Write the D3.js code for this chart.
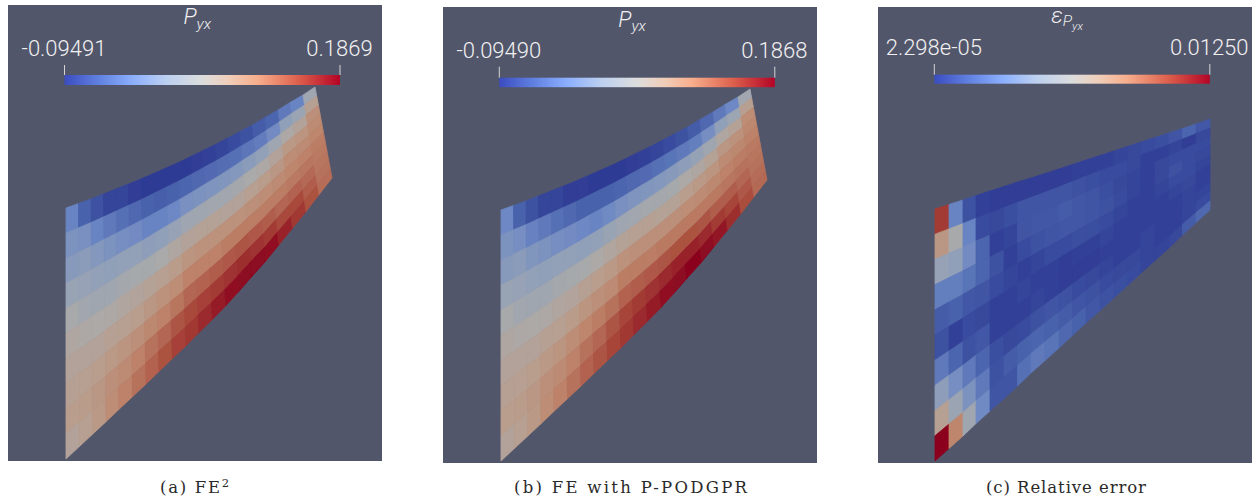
<!DOCTYPE html>
<html><head><meta charset="utf-8">
<script src="https://cdn.jsdelivr.net/npm/d3@7"></script>
<style>
html,body{margin:0;padding:0;background:#fff}
svg{display:block}
.bar-label{font-family:Roboto,"Liberation Sans",sans-serif;font-weight:300;font-size:22px;fill:#f0f0f0;text-anchor:middle}
.title{font-family:Roboto,"Liberation Sans",sans-serif;font-weight:300;font-style:italic;font-size:22px;fill:#f0f0f0;text-anchor:middle}
.caption{font-family:"DejaVu Serif",serif;font-size:16.5px;fill:#2a2a2a;text-anchor:middle}
</style></head><body>
<div id="chart"></div>
<script>
const rangeA = ["-0.09491","0.1869"], rangeB = ["-0.09490","0.1868"], rangeC = ["2.298e-05","0.01250"];
const captions = ["(a) FE","(b) FE with P-PODGPR","(c) Relative error"];

// deformed mesh outline (panels a, b), model units
const defTopX = [0,.125,.25,.375,.50,.625,.75,.875,1.0,1.125,1.25,1.37,1.495,1.62,1.74,1.865,1.99,2.12,2.24,2.37,2.49];
const defTopY = [2.51,2.555,2.60,2.65,2.70,2.75,2.80,2.855,2.91,2.965,3.025,3.085,3.145,3.21,3.275,3.34,3.415,3.49,3.565,3.64,3.72];
const defBotX = [0,.133,.266,.40,.53,.665,.80,.93,1.065,1.20,1.33,1.465,1.60,1.73,1.86,2.00,2.13,2.265,2.40,2.53,2.66];
const defBotY = [0,.124,.248,.373,.497,.623,.749,.876,1.004,1.133,1.264,1.397,1.535,1.678,1.827,1.982,2.143,2.308,2.474,2.643,2.81];
// reference mesh outline (panel c)
const refTopX = [-.01,.13,.27,.40,.54,.68,.815,.95,1.09,1.23,1.365,1.50,1.64,1.78,1.915,2.05,2.19,2.33,2.465,2.60,2.74];
const refBotX = refTopX;
const refTopY = [2.52,2.565,2.61,2.655,2.70,2.745,2.79,2.83,2.875,2.92,2.965,3.01,3.055,3.10,3.145,3.19,3.235,3.28,3.325,3.37,3.42];
const refBotY = [0,.125,.25,.375,.50,.625,.75,.88,1.005,1.13,1.255,1.38,1.505,1.63,1.755,1.88,2.005,2.13,2.26,2.385,2.51];

// cell values as a fraction of the colour bar, rows top to bottom
const cellsA = [
[.24,.12,.07,.03,.03,.01,0,0,0,0,.01,.02,.03,.05,.07,.10,.13,.20,.24,.45],
[.30,.29,.24,.20,.17,.14,.12,.11,.12,.13,.14,.15,.16,.17,.19,.21,.27,.37,.42,.58],
[.34,.35,.33,.30,.28,.27,.24,.24,.25,.29,.30,.31,.32,.33,.35,.38,.44,.52,.56,.66],
[.41,.40,.38,.37,.38,.38,.36,.37,.40,.44,.45,.46,.46,.47,.50,.52,.56,.62,.64,.68],
[.49,.46,.45,.45,.47,.48,.48,.50,.53,.56,.57,.57,.56,.56,.59,.61,.63,.67,.68,.70],
[.53,.52,.51,.52,.54,.55,.57,.59,.61,.64,.65,.65,.65,.65,.66,.67,.68,.70,.71,.72],
[.56,.56,.56,.58,.59,.60,.63,.65,.67,.71,.71,.71,.72,.72,.72,.72,.72,.73,.74,.73],
[.58,.59,.60,.62,.64,.66,.69,.71,.74,.78,.79,.80,.81,.82,.81,.80,.78,.79,.77,.74],
[.60,.61,.63,.66,.68,.71,.75,.78,.82,.85,.87,.88,.90,.91,.90,.88,.85,.85,.80,.75],
[.56,.59,.62,.67,.71,.75,.79,.83,.87,.89,.92,.95,.97,.99,.99,.97,.93,.89,.83,.76]];
const cellsB = [
[.25,.12,.07,.03,.03,.01,.01,0,0,0,.01,.02,.03,.05,.07,.10,.14,.20,.25,.46],
[.30,.28,.23,.20,.17,.14,.12,.12,.12,.13,.14,.15,.17,.18,.20,.22,.28,.37,.43,.59],
[.34,.35,.32,.30,.28,.27,.25,.24,.26,.29,.31,.32,.33,.34,.36,.39,.45,.53,.57,.67],
[.41,.40,.38,.37,.38,.38,.37,.38,.41,.44,.46,.47,.47,.48,.51,.53,.57,.63,.65,.69],
[.49,.46,.45,.45,.47,.48,.49,.51,.54,.57,.58,.58,.57,.57,.60,.62,.64,.68,.69,.71],
[.53,.52,.51,.52,.54,.55,.58,.60,.62,.65,.66,.66,.66,.66,.67,.68,.69,.71,.72,.73],
[.56,.56,.56,.58,.59,.61,.64,.66,.68,.72,.72,.72,.73,.73,.73,.73,.73,.74,.75,.74],
[.58,.59,.60,.62,.64,.67,.70,.72,.75,.79,.80,.81,.82,.83,.83,.82,.80,.80,.78,.75],
[.60,.61,.63,.66,.68,.71,.75,.78,.82,.86,.88,.90,.92,.93,.93,.92,.88,.86,.81,.76],
[.56,.59,.62,.67,.71,.75,.79,.82,.86,.89,.92,.95,.97,.99,1,.99,.96,.91,.84,.77]];
const cellsC = [
[.88,.24,.07,.02,.01,.01,.01,.01,.01,.01,.02,.02,.02,.03,.04,.05,.06,.08,.13,.09],
[.63,.49,.24,.05,.04,.06,.08,.08,.08,.08,.07,.06,.05,.05,.04,.02,.02,.03,.01,.04],
[.40,.37,.27,.13,.02,.03,.08,.09,.09,.10,.09,.08,.06,.04,.03,.02,.04,.05,.05,.05],
[.22,.22,.18,.13,.07,.02,.05,.07,.08,.09,.09,.08,.07,.05,.03,.02,.04,.07,.05,.04],
[.10,.12,.09,.08,.05,.03,.02,.03,.05,.05,.06,.06,.05,.03,.02,.02,.03,.05,.05,.03],
[.07,.02,.05,.04,.02,.02,.03,.02,.02,.01,.02,.02,.03,.02,.02,.02,.02,.03,.04,.02],
[.20,.13,.07,.09,.02,.02,.02,.03,.02,.01,.01,.01,.02,.02,.02,.02,.02,.02,.03,.02],
[.36,.28,.20,.13,.06,.04,.05,.07,.08,.07,.05,.04,.03,.02,.02,.03,.02,.02,.03,.03],
[.58,.42,.30,.20,.07,.10,.12,.13,.12,.10,.08,.07,.05,.04,.04,.03,.02,.02,.03,.05],
[1,.70,.45,.26,.08,.08,.17,.20,.18,.14,.12,.09,.07,.06,.05,.03,.03,.04,.10,.14]];

const colorPos = [0,.12,.25,.37,.5,.6,.7,.85,1];
const colorVal = ["#3b4cc0","#5f7fe0","#8db0fe","#bcd0f0","#dddddd","#f0cdb8","#f7ae8c","#dc5f4c","#b40426"];
const lightFactor = .77;

const color = d3.scaleLinear().domain(colorPos).range(colorVal).clamp(true);
const shaded = t => { const c = d3.rgb(color(t)); return d3.rgb(c.r*lightFactor,c.g*lightFactor,c.b*lightFactor).formatHex(); };
const x = d3.scaleLinear().domain([0,1]).range([58,158]);
const y = d3.scaleLinear().domain([0,1]).range([454,354]);
const barX = d3.scaleLinear().domain([0,1]).range([0,275.5]);

const panels = [
 {ox:8,oy:5,cells:cellsA,tx:defTopX,ty:defTopY,bx:defBotX,by:defBotY,lab:rangeA,barY:70,barH:10,tickH:10,labY:50.7,titleY:19,sym:"P",bar0:56.5},
 {ox:443,oy:7,cells:cellsB,tx:defTopX,ty:defTopY,bx:defBotX,by:defBotY,lab:rangeB,barY:70.7,barH:9.5,tickH:11,labY:51.3,titleY:19.7,sym:"P",bar0:56.3},
 {ox:878,oy:7,cells:cellsC,tx:refTopX,ty:refTopY,bx:refBotX,by:refBotY,lab:rangeC,barY:67.7,barH:9,tickH:10.7,labY:48,titleY:16.3,sym:"e",bar0:56.3}
];
const W=374,H=456;
const svg = d3.select("#chart").append("svg").attr("width",1260).attr("height",504);
const defs = svg.append("defs");
defs.append("linearGradient").attr("id","cbar").selectAll("stop").data(colorPos).join("stop")
  .attr("offset",d=>d*100+"%").attr("stop-color",d=>color(d));
defs.append("filter").attr("id","soft").attr("x","-2%").attr("y","-2%").attr("width","104%").attr("height","104%")
  .append("feGaussianBlur").attr("stdDeviation",.45);

const line = d3.line().x(d=>x(d[0])).y(d=>y(d[1]));
panels.forEach(p=>{
  const g = svg.append("g").attr("transform",`translate(${p.ox},${p.oy})`);
  g.append("rect").attr("width",W).attr("height",H).attr("fill","#52566b");
  const node=(i,j)=>{const v=j/10;return [p.tx[i]+(p.bx[i]-p.tx[i])*v,p.ty[i]+(p.by[i]-p.ty[i])*v];};
  const flat=[];
  p.cells.forEach((row,j)=>row.forEach((t,i)=>flat.push({i,j,t})));
  const mesh=g.append("g").attr("filter","url(#soft)");
  mesh.selectAll("path.cell").data(flat).join("path").attr("class","cell")
    .attr("d",d=>line([node(d.i,d.j),node(d.i+1,d.j),node(d.i+1,d.j+1),node(d.i,d.j+1)])+"Z")
    .attr("fill",d=>shaded(d.t)).attr("stroke",d=>shaded(d.t)).attr("stroke-width",.8).attr("stroke-linejoin","round");
  const bar=g.append("g").attr("transform",`translate(${p.bar0},${p.barY})`);
  bar.append("rect").attr("width",barX(1)).attr("height",p.barH).attr("fill","url(#cbar)");
  bar.selectAll("line").data([0,1]).join("line")
    .attr("x1",barX).attr("x2",barX).attr("y1",-p.tickH).attr("y2",0)
    .attr("stroke","#d4d4d4").attr("stroke-width",1);
  g.selectAll("text.bar-label").data([0,1]).join("text").attr("class","bar-label")
    .attr("x",d=>p.bar0+barX(d)-.5).attr("y",p.labY).text(d=>p.lab[d]);
  const t=g.append("text").attr("class","title").attr("x",p.bar0+barX(.5)-5).attr("y",p.titleY);
  if(p.sym==="P"){
    t.append("tspan").text("P");
    t.append("tspan").attr("font-size",15.5).attr("dy",4.5).text("yx");
  } else {
    t.append("tspan").text("ε");
    t.append("tspan").attr("font-size",15.5).attr("dy",3).text("P");
    t.append("tspan").attr("font-size",11.5).attr("dy",3.5).text("yx");
  }
});
const capX=[194.5,630.5,1066], capLen=[69,233,160];
captions.forEach((c,k)=>{
  const t=svg.append("text").attr("class","caption").attr("x",capX[k]).attr("y",493).text(c);
  if(k===0) t.append("tspan").attr("font-size",11.5).attr("dy",-6).text("2");
  t.attr("textLength",capLen[k]).attr("lengthAdjust","spacing");
});
</script></body></html>
